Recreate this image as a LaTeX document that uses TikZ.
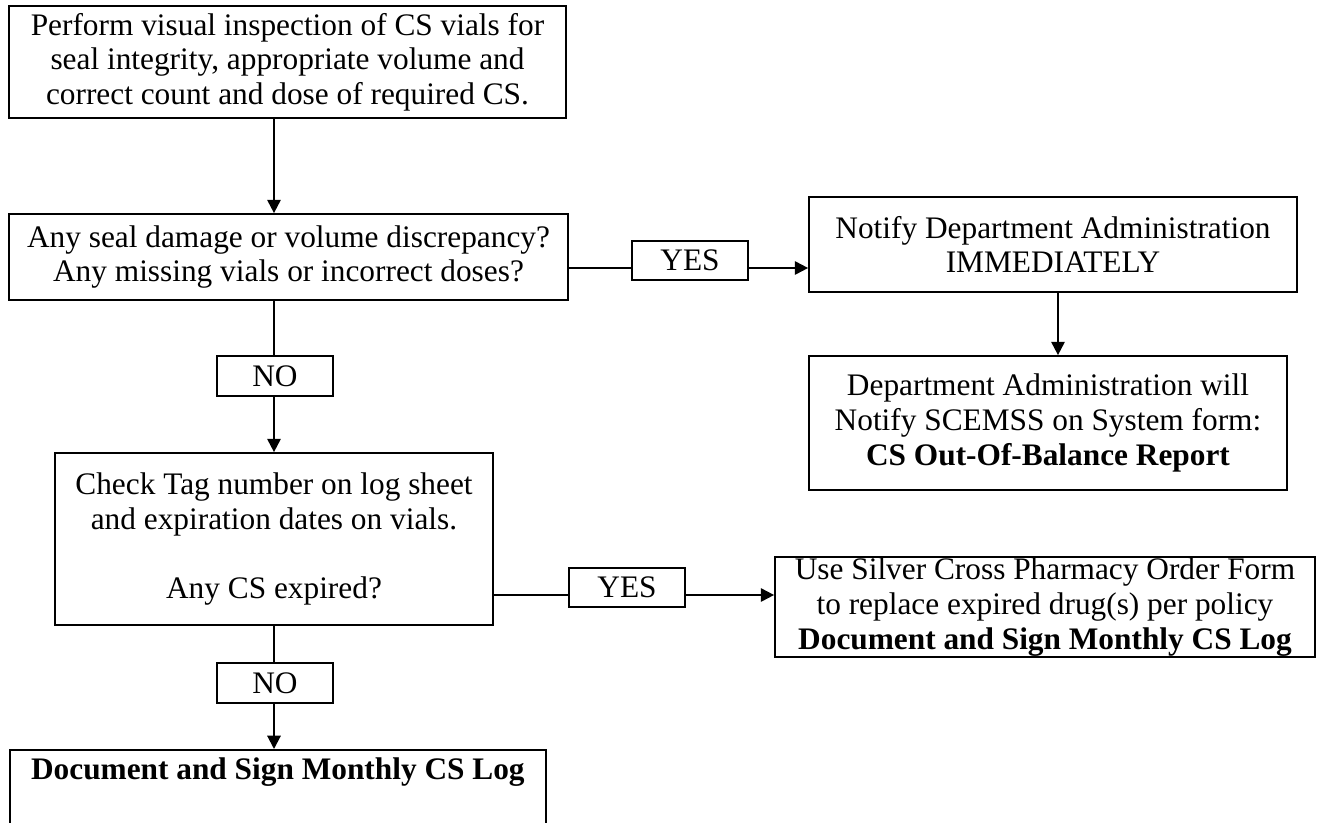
\documentclass[tikz,border=0pt]{standalone}
\usepackage{fontspec}
\setmainfont{Liberation Serif}
\usetikzlibrary{arrows.meta}
\tikzset{
  box/.style={draw, line width=1.3pt, rectangle, align=center, inner sep=0pt,
    font=\fontsize{23.5}{26}\selectfont},
  lbl/.style={draw, line width=1.3pt, rectangle, inner sep=0pt,
    minimum width=87pt, minimum height=29.5pt, font=\fontsize{23.5}{26}\selectfont},
  conn/.style={line width=1.5pt},
  arr/.style={line width=1.5pt, -{Triangle[length=10pt,width=10pt]}}
}
\begin{document}
\begin{tikzpicture}[x=0.75pt,y=-0.75pt]
\useasboundingbox (0,0) rectangle (1324,822);
\node[box, minimum width=557*0.75pt, minimum height=112*0.75pt] (top) at (287.5,62)
  {Perform visual inspection of CS vials for\\seal integrity, appropriate volume and\\correct count and dose of required CS.};
\node[box, minimum width=559*0.75pt, minimum height=86*0.75pt] (dec) at (288.5,257)
  {Any seal damage or volume discrepancy?\\Any missing vials or incorrect doses?};
\node[lbl] (yes1) at (690,260.5) {YES};
\node[box, minimum width=488*0.75pt, minimum height=95*0.75pt] (notify) at (1053,244.5)
  {Notify Department Administration\\IMMEDIATELY};
\node[box, minimum width=478*0.75pt, minimum height=134*0.75pt] (dept) at (1048,423)
  {Department Administration will\\Notify SCEMSS on System form:\\\textbf{CS Out-Of-Balance Report}};
\node[lbl] (no1) at (275,376) {NO};
\node[box, minimum width=438*0.75pt, minimum height=172*0.75pt] (check) at (274,539)
  {Check Tag number on log sheet\\and expiration dates on vials.\\[26pt]Any CS expired?};
\node[lbl] (yes2) at (627,587.5) {YES};
\node[box, minimum width=540*0.75pt, minimum height=100*0.75pt] (silver) at (1045,607)
  {Use Silver Cross Pharmacy Order Form\\to replace expired drug(s) per policy\\\textbf{Document and Sign Monthly CS Log}};
\node[lbl] (no2) at (275,683) {NO};
\node[box, anchor=north west, minimum width=536*0.75pt, inner ysep=6pt,
  text height=16pt, text depth=60pt] (doc) at (9,749)
  {\textbf{Document and Sign Monthly CS Log}};
\coordinate (ax) at (274,0);
\coordinate (bx) at (1058,0);
\coordinate (ly1) at (0,268);
\coordinate (ly2) at (0,595);
\draw[arr] (top.south -| ax) -- (dec.north -| ax);
\draw[conn] (dec.east |- ly1) -- (yes1.west |- ly1);
\draw[arr] (yes1.east |- ly1) -- (notify.west |- ly1);
\draw[arr] (notify.south -| bx) -- (dept.north -| bx);
\draw[conn] (dec.south -| ax) -- (no1.north -| ax);
\draw[arr] (no1.south -| ax) -- (check.north -| ax);
\draw[conn] (check.east |- ly2) -- (yes2.west |- ly2);
\draw[arr] (yes2.east |- ly2) -- (silver.west |- ly2);
\draw[conn] (check.south -| ax) -- (no2.north -| ax);
\draw[arr] (no2.south -| ax) -- (doc.north -| ax);
\end{tikzpicture}
\end{document}
